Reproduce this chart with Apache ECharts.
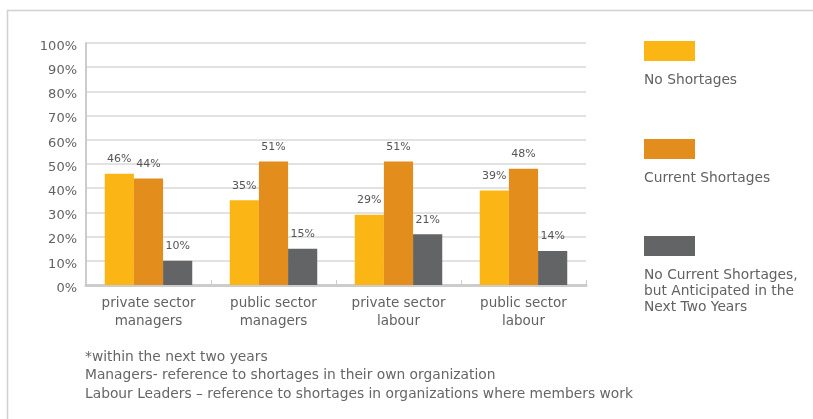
<!DOCTYPE html>
<html>
<head>
<meta charset="utf-8">
<script src="https://cdn.jsdelivr.net/npm/echarts@6/dist/echarts.min.js"></script>
<style>
  html, body { margin: 0; padding: 0; background: #ffffff; overflow: hidden; }
  #chart { width: 813px; height: 419px; }
</style>
</head>
<body>
<div id="chart"></div>
<script>
// Workforce shortage survey: share of respondents per group
const categories = [
  'private sector\nmanagers',
  'public sector\nmanagers',
  'private sector\nlabour',
  'public sector\nlabour'
];
const seriesNames = [
  'No Shortages',
  'Current Shortages',
  'No Current Shortages,\nbut Anticipated in the\nNext Two Years'
];
const noShortages = [46, 35, 29, 39];
const currentShortages = [44, 51, 51, 48];
const anticipatedShortages = [10, 15, 21, 14];
const seriesColors = ['#FBB616', '#E38D1C', '#636466'];
const yTicks = [0, 10, 20, 30, 40, 50, 60, 70, 80, 90, 100];
const footnotes = [
  '*within the next two years',
  'Managers- reference to shortages in their own organization',
  'Labour Leaders \u2013 reference to shortages in organizations where members work'
];

const FONT = '"DejaVu Sans", "Open Sans", sans-serif';
const TEXT = '#626262';

const chart = echarts.init(document.getElementById('chart'), null, { renderer: 'canvas' });

const values = [noShortages, currentShortages, anticipatedShortages];
const series = values.map((data, i) => ({
  name: seriesNames[i],
  type: 'bar',
  data: data,
  barGap: '0%',
  barCategoryGap: '30%',
  itemStyle: { color: seriesColors[i] },
  label: {
    show: true,
    position: 'top',
    distance: 9,
    formatter: '{c}%',
    color: '#555555',
    fontFamily: FONT,
    fontSize: 11
  }
}));

// Legend: swatch with caption beneath it
const legendGraphics = [];
const legendTops = [41, 139, 236];
seriesNames.forEach((name, i) => {
  legendGraphics.push({
    type: 'rect',
    left: 644, top: legendTops[i],
    shape: { width: 51, height: 20 },
    style: { fill: seriesColors[i] }
  });
  legendGraphics.push({
    type: 'text',
    left: 644, top: legendTops[i] + 31,
    style: {
      text: name,
      fill: TEXT,
      font: '13.8px ' + FONT,
      lineHeight: 16
    }
  });
});

const footGraphics = footnotes.map((t, i) => ({
  type: 'text',
  left: 85, top: 350 + i * 18.5,
  style: { text: t, fill: '#666666', font: '13.8px ' + FONT }
}));

chart.setOption({
  animation: false,
  backgroundColor: '#ffffff',
  grid: { left: 86, right: 227, top: 43, bottom: 134, containLabel: false },
  xAxis: {
    type: 'category',
    data: categories,
    axisLine: { show: true, lineStyle: { color: '#cccccc', width: 3 } },
    axisTick: { show: true, inside: true, length: 5, lineStyle: { color: '#cccccc', width: 1 } },
    axisLabel: {
      color: TEXT, fontFamily: FONT, fontSize: 13.5,
      lineHeight: 18, margin: 9
    }
  },
  yAxis: {
    type: 'value',
    min: yTicks[0],
    max: yTicks[yTicks.length - 1],
    interval: yTicks[1] - yTicks[0],
    axisLine: { show: true, lineStyle: { color: '#cccccc', width: 2 } },
    axisTick: { show: false },
    axisLabel: {
      formatter: '{value}%',
      color: TEXT, fontFamily: FONT, fontSize: 13, margin: 9,
      verticalAlign: 'top', lineHeight: 7
    },
    splitLine: { show: true, lineStyle: { color: '#d9d9d9', width: 1.5 } }
  },
  series: series,
  graphic: [
    // open frame: only its top and left edges fall inside the canvas
    {
      type: 'rect',
      shape: { x: 7.5, y: 10.5, width: 1000, height: 1000 },
      style: { fill: 'transparent', stroke: '#d0d0d0', lineWidth: 1.5 },
      silent: true
    }
  ].concat(legendGraphics, footGraphics)
});
</script>
</body>
</html>
